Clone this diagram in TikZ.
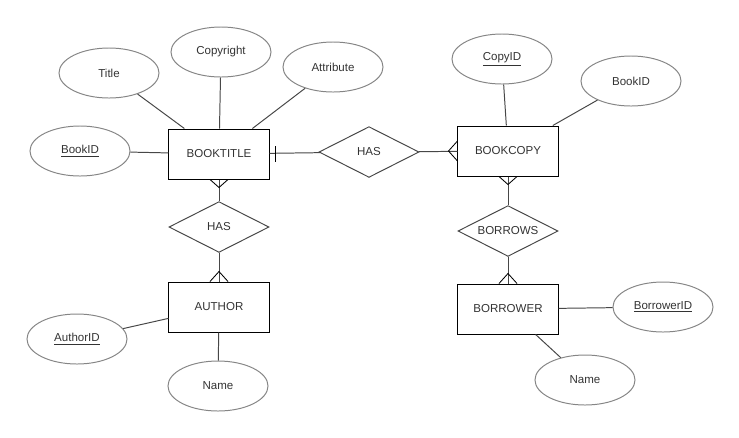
\documentclass[tikz,border=0pt]{standalone}
\usepackage{fontspec}
\setmainfont{Liberation Sans}
\usetikzlibrary{shapes.geometric}
\colorlet{linegray}{black!72}
\colorlet{ellgray}{black!48}
\colorlet{txtgray}{black!80}
\tikzset{
    every node/.style={font=\fontsize{8.2}{10}\selectfont, text=txtgray},
    every path/.style={line width=0.7pt},
    entity/.style={draw=black, rectangle, minimum width=2.5cm, minimum height=1.25cm},
    attr/.style={draw=ellgray, ellipse, inner sep=0pt, minimum width=2.5cm, minimum height=1.25cm},
    rel/.style={draw=linegray, diamond, aspect=2, inner sep=0pt, minimum width=2.5cm, minimum height=1.27cm},
    link/.style={draw=linegray},
    crow/.style={draw=black, line width=0.6pt}
}

\begin{document}
\begin{tikzpicture}[x=0.025cm, y=-0.025cm]
\useasboundingbox (0,0) rectangle (739,437);

% book title side
\node[entity] at (219,154) (bt) {BOOKTITLE};
\node[attr] at (80,151) (btid) {\underline{BookID}};
\node[attr] at (109,73) (title) {Title};
\node[attr] at (221,52) (copyright) {Copyright};
\node[attr] at (333,67) (attribute) {Attribute};
\draw[link] (btid) -- (bt);
\draw[link] (title) -- (bt);
\draw[link] (copyright) -- (bt);
\draw[link] (attribute) -- (bt);

\node[rel] at (369,152) (has1) {HAS};
\node[rel] at (219,227) (has2) {HAS};

% book copy side
\node[entity] at (508,151) (bc) {BOOKCOPY};
\node[attr] at (502,59) (copyid) {\underline{CopyID}};
\node[attr] at (631,81) (bcid) {BookID};
\draw[link] (copyid) -- (bc);
\draw[link] (bcid) -- (bc);

\node[rel] at (508,231) (borrows) {BORROWS};

\node[entity] at (219,307) (au) {AUTHOR};
\node[attr] at (77,339) (auid) {\underline{AuthorID}};
\node[attr] at (218,386) (auname) {Name};
\draw[link] (auid) -- (au);
\draw[link] (auname) -- (au);

\node[entity] at (508,309) (br) {BORROWER};
\node[attr] at (663,307) (brid) {\underline{BorrowerID}};
\node[attr] at (585,380) (brname) {Name};
\draw[link] (brid) -- (br);
\draw[link] (brname) -- (br);

% relationships
\draw[link] (bt) -- (has1);
\draw[link] (has1) -- (bc);
\draw[link] (bt) -- (has2);
\draw[link] (has2) -- (au);
\draw[link] (bc) -- (borrows);
\draw[link] (borrows) -- (br);

% cardinality marks
\draw[crow] ([shift={(6,-8)}]bt.east) -- ++(0,16);
\draw[crow] ([shift={(0,-10)}]bc.west) -- ++(-9,10) -- ++(9,10);
\draw[crow] ([shift={(-9,0)}]bt.south) -- ++(9,8) -- ++(9,-8);
\draw[crow] ([shift={(-9,0)}]au.north) -- ++(9,-10) -- ++(9,10);
\draw[crow] ([shift={(-9,0)}]bc.south) -- ++(9,8) -- ++(9,-8);
\draw[crow] ([shift={(-9,0)}]br.north) -- ++(9,-10) -- ++(9,10);
\end{tikzpicture}
\end{document}
